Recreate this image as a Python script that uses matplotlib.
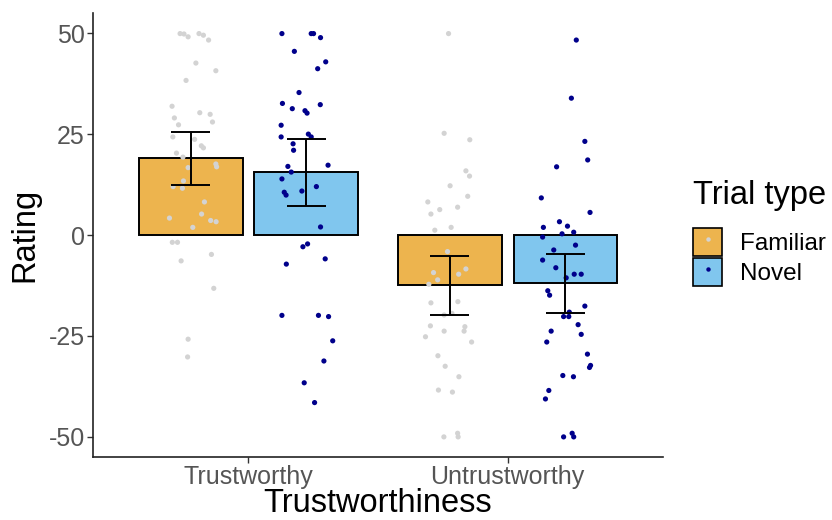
import matplotlib
matplotlib.use("Agg")
import matplotlib.pyplot as plt
from matplotlib.patches import Patch
from matplotlib.lines import Line2D
import numpy as np

plt.rcParams['font.family'] = ['Liberation Sans', 'DejaVu Sans']

# ---------------- data ----------------
categories = ["Trustworthy", "Untrustworthy"]
trial_types = ["Familiar", "Novel"]

bar_means = {"Familiar": [19.1, -12.4], "Novel": [15.6, -11.9]}
err_low = {"Familiar": [12.4, -19.8], "Novel": [7.2, -19.3]}
err_high = {"Familiar": [25.5, -5.2], "Novel": [23.8, -4.7]}

# jittered raw ratings (jitter offsets, in category units)
fam_trust_vals = [49.9, 49.8, 49.1, 49.9, 49.5, 48.3, 42.6, 40.7, 38.3, 31.9, 30.3, 29.9, 29.0,
                  28.0, 27.3, 24.3, 23.7, 22.1, 21.6, 20.3, 19.3, 17.6, 16.9, 16.7, 13.4, 12.0,
                  11.6, 8.2, 5.2, 4.2, 3.6, 3.3, 1.9, -1.8, -1.8, -4.8, -6.4, -13.2, -25.8, -30.2]
fam_trust_jit = [-0.041, -0.026, -0.010, 0.032, 0.049, 0.069, 0.020, 0.097, -0.018, -0.072, 0.035,
                 0.075, -0.063, 0.084, -0.047, -0.069, 0.015, 0.041, 0.049, -0.055, -0.030, 0.097,
                 0.100, -0.010, -0.028, -0.068, -0.032, 0.053, 0.042, -0.082, 0.077, 0.098, 0.008,
                 -0.071, -0.051, 0.080, -0.037, 0.089, -0.010, -0.012]

nov_trust_vals = [49.9, 49.9, 49.9, 48.9, 45.5, 42.9, 41.2, 35.3, 32.6, 31.3, 30.8, 30.2, 32.3,
                  27.2, 24.3, 25.0, 24.3, 22.6, 21.0, 17.0, 17.3, 15.6, 13.9, 10.6, 9.9, 10.9,
                  12.0, 2.0, -2.9, -2.2, -7.2, -5.9, -19.9, -19.9, -20.2, -26.2, -31.2, -36.6, -41.5]
nov_trust_jit = [-0.094, 0.019, 0.028, 0.055, -0.046, 0.075, 0.044, -0.028, -0.092, -0.054, -0.005,
                 0.003, 0.054, -0.097, -0.097, 0.008, 0.019, -0.051, -0.049, -0.071, 0.084, -0.058,
                 -0.094, -0.085, -0.078, -0.017, 0.039, 0.055, -0.013, 0.005, -0.077, 0.073, -0.094,
                 0.047, 0.086, 0.102, 0.068, -0.008, 0.032]

fam_untr_vals = [49.9, 25.2, 23.6, 15.9, 14.6, 12.2, 9.6, 8.2, 6.3, 5.2, 6.9, 1.2, 1.9, -4.1,
                 -9.3, -11.1, -12.2, -9.7, -8.4, -16.8, -16.5, -19.8, -19.4, -22.5, -23.8, -22.7,
                 -23.8, -25.2, -26.5, -29.9, -32.5, -35.1, -38.4, -38.9, -50.0, -49.1, -50.0]
fam_untr_jit = [-0.005, -0.022, 0.077, 0.062, 0.076, 0.001, 0.069, -0.085, -0.039, -0.073, 0.030,
                -0.058, 0.005, -0.009, -0.063, -0.047, -0.081, 0.034, 0.062, -0.073, 0.031, -0.022,
                0.008, -0.075, -0.022, 0.058, 0.055, -0.094, 0.084, -0.046, -0.018, 0.035, -0.044,
                0.010, -0.023, 0.030, 0.032]

nov_untr_vals = [48.3, 33.9, 23.2, 18.6, 16.9, 9.2, 5.6, 3.3, 1.9, 2.2, 0.3, 0.7, -0.5, -2.5,
                 -3.7, -6.2, -8.1, -9.7, -9.7, -10.6, -13.8, -14.9, -17.6, -19.1, -20.2, -20.2,
                 -22.2, -23.8, -24.6, -26.5, -29.5, -32.3, -32.8, -34.8, -35.1, -38.5, -40.6,
                 -50.0, -49.1, -50.0]
nov_untr_jit = [0.042, 0.023, 0.075, 0.086, -0.034, -0.093, 0.095, -0.023, -0.085, 0.008, -0.013,
                0.032, -0.088, 0.039, -0.045, -0.088, -0.037, 0.034, 0.061, 0.003, -0.068, -0.061,
                0.075, 0.015, -0.007, 0.013, 0.049, -0.055, 0.061, -0.072, 0.085, 0.097, 0.093,
                -0.010, 0.031, -0.064, -0.077, -0.007, 0.026, 0.032]

points = {
    ("Familiar", 0): (fam_trust_vals, fam_trust_jit),
    ("Novel", 0): (nov_trust_vals, nov_trust_jit),
    ("Familiar", 1): (fam_untr_vals, fam_untr_jit),
    ("Novel", 1): (nov_untr_vals, nov_untr_jit),
}

bar_colors = {"Familiar": "#EDB44E", "Novel": "#80C6EE"}
pt_colors = {"Familiar": "#D3D3D3", "Novel": "#00008B"}

# ---------------- figure ----------------
W, H = 832, 520
fig = plt.figure(figsize=(W / 100, H / 100), dpi=100)
ax = fig.add_axes([0.1118, 0.121, 0.797 - 0.1118, 0.975 - 0.121])

xc = np.array([1, 2])
bw = 0.40
dodge = 0.223
offs = {"Familiar": -dodge, "Novel": dodge}

for t in trial_types:
    ax.bar(xc + offs[t], bar_means[t], width=bw, color=bar_colors[t],
           edgecolor="black", linewidth=1.4, zorder=1)

for (t, ci), (vals, jit) in points.items():
    xs = xc[ci] + offs[t] + np.array(jit)
    ax.scatter(xs, vals, s=14, color=pt_colors[t], edgecolors="none", zorder=2)

for t in trial_types:
    xs = xc + offs[t]
    lo = np.array(err_low[t]); hi = np.array(err_high[t])
    ax.vlines(xs, lo, hi, color="black", linewidth=1.4, zorder=3)
    ax.hlines(lo, xs - 0.075, xs + 0.075, color="black", linewidth=1.4, zorder=3)
    ax.hlines(hi, xs - 0.075, xs + 0.075, color="black", linewidth=1.4, zorder=3)

ax.set_xlim(0.4, 2.6)
ax.set_ylim(-55, 55)
ax.set_xticks(xc)
ax.set_xticklabels(categories)
ax.set_yticks([-50, -25, 0, 25, 50])
ax.set_yticklabels(["-50", "-25", "0", "25", "50"])

for s in ["top", "right"]:
    ax.spines[s].set_visible(False)
for s in ["left", "bottom"]:
    ax.spines[s].set_color("#222222")
    ax.spines[s].set_linewidth(1.2)
ax.tick_params(axis="both", colors="#333333", labelcolor="#555555", labelsize=18,
               length=4, width=1.0, pad=2)

ax.set_xlabel("Trustworthiness", fontsize=23.5, color="black", labelpad=-1)
ax.set_ylabel("Rating", fontsize=23.5, color="black", labelpad=6)

# legend: title as its own text, keys below it
fig.text(693 / W, 1 - 204 / H, "Trial type", fontsize=23.5, color="black",
         ha="left", va="baseline")
handles = [(Patch(facecolor=bar_colors[t], edgecolor="black", linewidth=1.2),
            Line2D([], [], marker="o", linestyle="none", markersize=3.2,
                   markerfacecolor=pt_colors[t], markeredgecolor="none"))
           for t in trial_types]
leg = fig.legend(handles, trial_types, loc="upper left",
                 bbox_to_anchor=(693 / W, 1 - 228 / H), frameon=False, fontsize=17.5,
                 handlelength=1.2, handleheight=1.4,
                 labelspacing=0.08, handletextpad=0.75, borderaxespad=0,
                 borderpad=0)

fig.savefig("out.png", dpi=100)
